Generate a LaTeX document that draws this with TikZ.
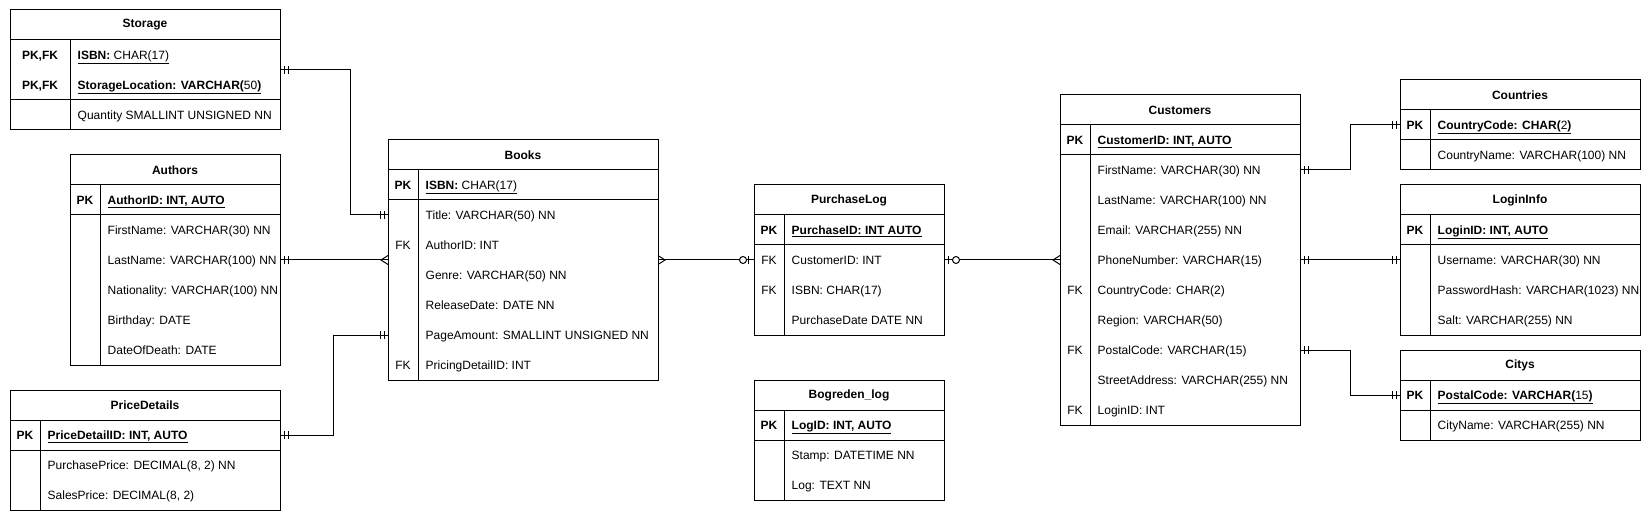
\documentclass[tikz,border=0pt]{standalone}
\usepackage{fontspec}
\setmainfont{Liberation Sans}
\usetikzlibrary{decorations.markings}

\newcommand{\tblfont}{\fontsize{12}{14}\selectfont}

\tikzset{
    tbl/.style={draw, line width=1pt, inner sep=0pt, outer sep=0pt, anchor=north west},
    tblline/.style={line width=1pt},
    tbltitle/.style={font=\tblfont\bfseries, inner sep=0pt},
    keycell/.style={font=\tblfont, inner sep=0pt, text height=8.6pt, text depth=0pt},
    fieldcell/.style={font=\tblfont, anchor=west, inner xsep=7.5pt, inner ysep=0pt, text height=8.6pt, text depth=0pt},
    rel/.style={line width=1pt},
    % crow's foot ends
    onestart/.style={postaction={decorate, decoration={markings, mark=at position 0 with
        {\draw[line width=1pt] (4pt,-4pt) -- (4pt,4pt) (8pt,-4pt) -- (8pt,4pt);}}}},
    oneend/.style={postaction={decorate, decoration={markings, mark=at position 1 with
        {\draw[line width=1pt] (-4pt,-4pt) -- (-4pt,4pt) (-8pt,-4pt) -- (-8pt,4pt);}}}},
    manystart/.style={postaction={decorate, decoration={markings, mark=at position 0 with
        {\draw[line width=1pt] (0,4.5pt) -- (7pt,0) -- (0,-4.5pt);}}}},
    manyend/.style={postaction={decorate, decoration={markings, mark=at position 1 with
        {\draw[line width=1pt] (0,4.5pt) -- (-7pt,0) -- (0,-4.5pt);}}}},
    zostart/.style={postaction={decorate, decoration={markings, mark=at position 0 with
        {\draw[line width=1pt] (4pt,-4pt) -- (4pt,4pt); \draw[line width=1pt, fill=white] (12pt,0) circle (3.5pt);}}}},
    zoend/.style={postaction={decorate, decoration={markings, mark=at position 1 with
        {\draw[line width=1pt] (-6pt,-4pt) -- (-6pt,4pt); \draw[line width=1pt, fill=white] (-11pt,0) circle (3.5pt);}}}},
}

% name, x, y, width, key width, title, pk rows, rows, key/field list
\newcommand{\ertable}[9]{%
    \node[tbl, minimum width=#4pt, minimum height={(30+30*#8)*1pt}] (#1) at (#2,#3) {};
    \node[tbltitle] (#1t) at ({#2+#4/2},{#3+15}) {#6};
    \draw[tblline] (#2,{#3+30}) -- ++(#4,0);
    \draw[tblline] (#2,{#3+30+30*#7}) -- ++(#4,0);
    \draw[tblline] ({#2+#5},{#3+30}) -- ++(0,{30*#8});
    \coordinate (#1pk) at (#2,{#3+30+15*#7});
    \foreach \k/\f [count=\i] in {#9} {
        \node[keycell] (#1k\i) at ({#2+#5/2},{#3+15+30*\i}) {\k};
        \node[fieldcell] (#1f\i) at ({#2+#5},{#3+15+30*\i}) {\f};
    }%
}

\begin{document}
\begin{tikzpicture}[x=1pt, y=-1pt]

    \useasboundingbox (0,0) rectangle (1651,521);

    %% Left side
    % Storage
    \ertable{storage}{10}{10}{270}{60}{Storage}{2}{3}{%
        {\textbf{PK,FK}}/{\underline{\textbf{ISBN:} CHAR(17)}},
        {\textbf{PK,FK}}/{\underline{\textbf{StorageLocation: VARCHAR(}50\textbf{)}}},
        /{Quantity SMALLINT UNSIGNED NN}}

    % Authors
    \ertable{authors}{70}{155}{210}{30}{Authors}{1}{6}{%
        \textbf{PK}/{\underline{\textbf{AuthorID: INT, AUTO}}},
        /{FirstName: VARCHAR(30) NN},
        /{LastName: VARCHAR(100) NN},
        /{Nationality: VARCHAR(100) NN},
        /{Birthday: DATE},
        /{DateOfDeath: DATE}}

    % PriceDetails
    \ertable{pricedetails}{10}{390}{270}{30}{PriceDetails}{1}{3}{%
        \textbf{PK}/{\underline{\textbf{PriceDetailID: INT, AUTO}}},
        /{PurchasePrice: DECIMAL(8, 2) NN},
        /{SalesPrice: DECIMAL(8, 2)}}

    %% Middle
    % Books
    \ertable{books}{388}{140}{270}{30}{Books}{1}{7}{%
        \textbf{PK}/{\underline{\textbf{ISBN:} CHAR(17)}},
        /{Title: VARCHAR(50) NN},
        FK/{AuthorID: INT},
        /{Genre: VARCHAR(50) NN},
        /{ReleaseDate: DATE NN},
        /{PageAmount: SMALLINT UNSIGNED NN},
        FK/{PricingDetailID: INT}}

    % PurchaseLog
    \ertable{purchaselog}{754}{185}{190}{30}{PurchaseLog}{1}{4}{%
        \textbf{PK}/{\underline{\textbf{PurchaseID: INT AUTO}}},
        FK/{CustomerID: INT},
        FK/{ISBN: CHAR(17)},
        /{PurchaseDate DATE NN}}

    % Bogreden_log
    \ertable{bogredenlog}{754}{380}{190}{30}{Bogreden\_log}{1}{3}{%
        \textbf{PK}/{\underline{\textbf{LogID: INT, AUTO}}},
        /{Stamp: DATETIME NN},
        /{Log: TEXT NN}}

    %% Right side
    % Customers
    \ertable{customers}{1060}{95}{240}{30}{Customers}{1}{10}{%
        \textbf{PK}/{\underline{\textbf{CustomerID: INT, AUTO}}},
        /{FirstName: VARCHAR(30) NN},
        /{LastName: VARCHAR(100) NN},
        /{Email: VARCHAR(255) NN},
        /{PhoneNumber: VARCHAR(15)},
        FK/{CountryCode: CHAR(2)},
        /{Region: VARCHAR(50)},
        FK/{PostalCode: VARCHAR(15)},
        /{StreetAddress: VARCHAR(255) NN},
        FK/{LoginID: INT}}

    % Countries
    \ertable{countries}{1400}{80}{240}{30}{Countries}{1}{2}{%
        \textbf{PK}/{\underline{\textbf{CountryCode: CHAR(}2\textbf{)}}},
        /{CountryName: VARCHAR(100) NN}}

    % LoginInfo
    \ertable{logininfo}{1400}{185}{240}{30}{LoginInfo}{1}{4}{%
        \textbf{PK}/{\underline{\textbf{LoginID: INT, AUTO}}},
        /{Username: VARCHAR(30) NN},
        /{PasswordHash: VARCHAR(1023) NN},
        /{Salt: VARCHAR(255) NN}}

    % Citys
    \ertable{citys}{1400}{350}{240}{30}{Citys}{1}{2}{%
        \textbf{PK}/{\underline{\textbf{PostalCode: VARCHAR(}15\textbf{)}}},
        /{CityName: VARCHAR(255) NN}}

    %% Relations
    \draw[rel, onestart, oneend] (storage.east |- storagepk) -- ++(70,0) |- (books.west |- booksf2);
    \draw[rel, onestart, manyend] (authors.east |- authorsf3) -- (books.west |- authorsf3);
    \draw[rel, onestart, oneend] (pricedetails.east |- pricedetailsf1) -- ++(53,0) |- (books.west |- booksf6);
    \draw[rel, manystart, zoend] (books.east |- purchaselogf2) -- (purchaselog.west |- purchaselogf2);
    \draw[rel, zostart, manyend] (purchaselog.east |- purchaselogf2) -- (customers.west |- customersf5);
    \draw[rel, onestart, oneend] (customers.east |- customersf2) -- ++(50,0) |- (countriespk);
    \draw[rel, onestart, oneend] (customers.east |- customersf5) -- (logininfo.west |- logininfof2);
    \draw[rel, onestart, oneend] (customers.east |- customersf8) -- ++(50,0) |- (cityspk);

\end{tikzpicture}
\end{document}
